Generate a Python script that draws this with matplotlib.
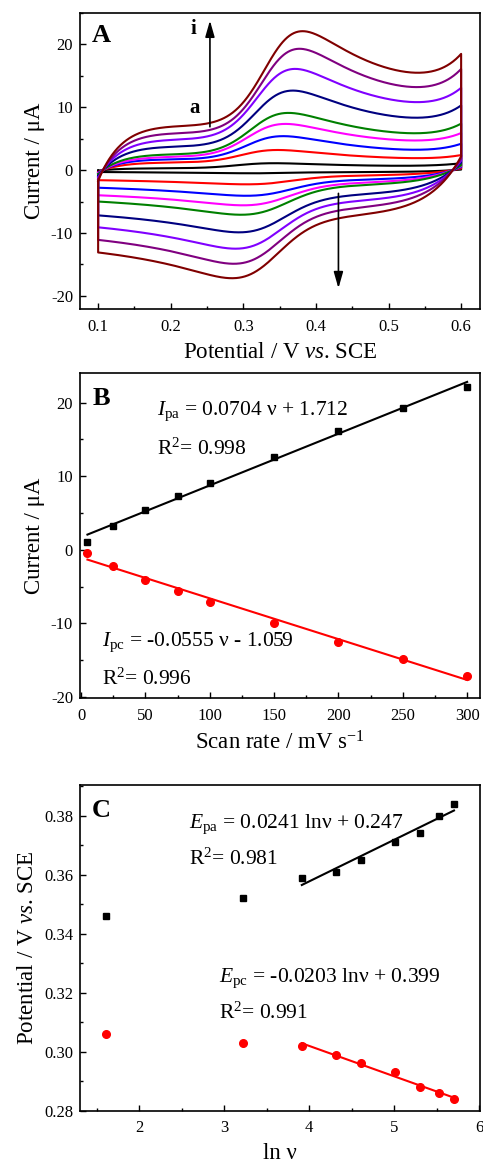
import numpy as np
import matplotlib
matplotlib.use('Agg')
import matplotlib.pyplot as plt
from matplotlib.ticker import MultipleLocator

plt.rcParams['font.family'] = ['Liberation Serif', 'DejaVu Serif']
plt.rcParams['mathtext.fontset'] = 'custom'
plt.rcParams['mathtext.rm'] = 'Liberation Serif'
plt.rcParams['mathtext.it'] = 'Liberation Serif:italic'
plt.rcParams['mathtext.bf'] = 'Liberation Serif:bold'
plt.rcParams['axes.unicode_minus'] = False

# scan rates (mV/s) and peak data
rates = [5, 25, 50, 75, 100, 150, 200, 250, 300]
ipa = [1.1, 3.2, 5.4, 7.35, 9.1, 12.65, 16.1, 19.3, 22.1]
ipc = [-0.5, -2.26, -4.08, -5.6, -7.1, -9.9, -12.5, -14.9, -17.2]
epa = [0.346, 0.352, 0.359, 0.361, 0.365, 0.371, 0.374, 0.380, 0.384]
epc = [0.306, 0.303, 0.302, 0.299, 0.296, 0.293, 0.288, 0.286, 0.284]

# background levels of each CV (uA)
fwd_at_02 = [0.3, 1.2, 1.7, 2.1, 2.5, 3.7, 4.8, 5.8, 6.9]
fwd_at_05 = [0.7, 2.0, 3.4, 4.9, 6.1, 8.7, 11.3, 13.8, 16.2]
fwd_at_06 = [1.1, 2.4, 4.2, 5.9, 7.4, 10.3, 13.1, 16.1, 18.5]
rev_at_045 = [-0.3, -0.9, -1.6, -2.1, -2.5, -4.0, -5.0, -6.1, -7.3]
rev_at_01 = [-0.3, -1.6, -2.8, -4.0, -5.0, -7.2, -9.1, -11.1, -13.1]

cv_colors = ['#000000', '#ff0000', '#0000ff', '#ff00ff', '#008000',
             '#000080', '#8000ff', '#800080', '#800000']

# linear fits printed on panel B
pa_slope, pa_icpt, pa_r2 = 0.0704, 1.712, 0.998
pc_slope, pc_icpt, pc_r2 = -0.0555, -1.059, 0.996

E_LO, E_HI = 0.1, 0.6
TAU_F, TAU_R = 0.035, 0.045
W_A, W_C = 0.024, 0.028

TICK_FS, LABEL_FS, EQ_FS, TAG_FS = 12, 16.5, 15.5, 19


def wave(x):
    return 1.0 / (1.0 + np.exp(-x)) / np.sqrt(1.0 + 3.0 * np.logaddexp(0, x))


_xs = np.linspace(-10, 40, 10001)
_hv = wave(_xs)
XP, HMAX = _xs[_hv.argmax()], _hv.max()


def peak(E, ep, w, sign):
    return wave(sign * (np.asarray(E) - ep) / w + XP) / HMAX


def fwd_basis(E, ep):
    E = np.asarray(E, dtype=float)
    S = 1 - np.exp(-(E - E_LO) / TAU_F)
    return np.array([S, S * (E - 0.2), peak(E, ep, W_A, 1),
                     np.exp((E - E_HI) / 0.04)]), 1 - S


def rev_basis(E, ep):
    E = np.asarray(E, dtype=float)
    S = 1 - np.exp(-(E_HI - E) / TAU_R)
    return np.array([S, S * (E - 0.45), peak(E, ep, W_C, -1)]), 1 - S


def cv_curve(k):
    f0 = -0.25 * fwd_at_02[k]
    r0 = -0.3 * rev_at_045[k]
    pts = [0.2, epa[k], 0.5, 0.6]
    vals = [fwd_at_02[k], ipa[k], fwd_at_05[k], fwd_at_06[k]]
    B, rest = fwd_basis(pts, epa[k])
    cf = np.linalg.solve(B.T, np.array(vals) - f0 * rest)
    ef = np.linspace(E_LO, E_HI, 500)
    B, rest = fwd_basis(ef, epa[k])
    i_f = cf @ B + f0 * rest

    pts = [0.45, epc[k], 0.1]
    vals = [rev_at_045[k], ipc[k], rev_at_01[k]]
    B, rest = rev_basis(pts, epc[k])
    cr = np.linalg.solve(B.T, np.array(vals) - r0 * rest)
    er = np.linspace(E_HI, E_LO, 500)
    B, rest = rev_basis(er, epc[k])
    i_r = cr @ B + r0 * rest
    e = np.concatenate([ef, er, ef[:1]])
    i = np.concatenate([i_f, i_r, i_f[:1]])
    return e, i


def style_axes(ax):
    for s in ax.spines.values():
        s.set_linewidth(1.2)
    ax.tick_params(which='both', direction='in', top=False, right=False,
                   labelsize=TICK_FS, width=1.0)
    ax.tick_params(which='major', length=4)
    ax.tick_params(which='minor', length=2)
    ax.tick_params(axis='x', pad=7)
    ax.tick_params(axis='y', pad=5)
    ax.xaxis.labelpad = 5


fig = plt.figure(figsize=(4.83, 11.63), dpi=100)
axA = fig.add_axes([0.1656, 0.7343, 0.8282, 0.2545])
axB = fig.add_axes([0.1656, 0.3996, 0.8282, 0.2794])
axC = fig.add_axes([0.1656, 0.0450, 0.8282, 0.2800])

# A: cyclic voltammograms
for k in range(len(rates)):
    e, i = cv_curve(k)
    axA.plot(e, i, color=cv_colors[k], lw=1.5)
axA.set_xlim(0.075, 0.626)
axA.set_ylim(-22.1, 25)
axA.xaxis.set_major_locator(MultipleLocator(0.1))
axA.xaxis.set_minor_locator(MultipleLocator(0.05))
axA.yaxis.set_major_locator(MultipleLocator(10))
axA.yaxis.set_minor_locator(MultipleLocator(5))
axA.set_xlabel(r'Potential / V $\it{vs}$. SCE', fontsize=LABEL_FS)
axA.set_ylabel('Current / μA', fontsize=LABEL_FS)
arrow = dict(arrowstyle='-|>,head_length=0.7,head_width=0.2', lw=1.2,
             color='k', shrinkA=0, shrinkB=0, mutation_scale=14)
axA.annotate('', xy=(0.254, 23.8), xytext=(0.254, 6.9), arrowprops=arrow)
axA.annotate('', xy=(0.431, -18.8), xytext=(0.431, -3.7), arrowprops=arrow)
axA.text(0.231, 22.4, 'i', fontsize=15, fontweight='bold', ha='center', va='center')
axA.text(0.233, 9.85, 'a', fontsize=15, fontweight='bold', ha='center', va='center')
axA.text(0.054, 0.923, 'A', transform=axA.transAxes, fontsize=TAG_FS,
         fontweight='bold', ha='center', va='center')
style_axes(axA)

# B: peak current vs scan rate
v = np.array([rates[0], rates[-1]], dtype=float)
axB.plot(v, pa_slope * v + pa_icpt, color='k', lw=1.5)
axB.plot(v, pc_slope * v + pc_icpt, color='#ff0000', lw=1.5)
axB.plot(rates, ipa, 's', color='k', ms=5, zorder=3)
axB.plot(rates, ipc, 'o', color='#ff0000', ms=5.5, zorder=3)
axB.set_xlim(-0.8, 310)
axB.set_ylim(-20.2, 24)
axB.xaxis.set_major_locator(MultipleLocator(50))
axB.xaxis.set_minor_locator(MultipleLocator(25))
axB.yaxis.set_major_locator(MultipleLocator(10))
axB.yaxis.set_minor_locator(MultipleLocator(5))
axB.set_xlabel(r'Scan rate / mV s$^{-1}$', fontsize=LABEL_FS)
axB.set_ylabel('Current / μA', fontsize=LABEL_FS)
axB.text(59, 18.3, r'$I_{\rm pa}$' + f' = {pa_slope} ν + {pa_icpt}', fontsize=EQ_FS)
axB.text(59, 12.9, r'R$^2$' + f'= {pa_r2}', fontsize=EQ_FS)
axB.text(16, -13.1, r'$I_{\rm pc}$' + f' = {pc_slope} ν - {abs(pc_icpt)}', fontsize=EQ_FS)
axB.text(16, -18.4, r'R$^2$' + f'= {pc_r2}', fontsize=EQ_FS)
axB.text(0.054, 0.923, 'B', transform=axB.transAxes, fontsize=TAG_FS,
         fontweight='bold', ha='center', va='center')
style_axes(axB)

# C: peak potential vs ln(scan rate)
ln_v = np.log(rates)
fit_pa = np.polyfit(ln_v[2:], epa[2:], 1)
fit_pc = np.polyfit(ln_v[2:], epc[2:], 1)
xx = np.array([ln_v[2], ln_v[-1]])
axC.plot(xx, np.polyval(fit_pa, xx), color='k', lw=1.5)
axC.plot(xx, np.polyval(fit_pc, xx), color='#ff0000', lw=1.5)
axC.plot(ln_v, epa, 's', color='k', ms=5, zorder=3)
axC.plot(ln_v, epc, 'o', color='#ff0000', ms=5.5, zorder=3)
axC.set_xlim(1.3, 6.01)
axC.set_ylim(0.28, 0.3904)
axC.xaxis.set_major_locator(MultipleLocator(1))
axC.xaxis.set_minor_locator(MultipleLocator(0.5))
axC.yaxis.set_major_locator(MultipleLocator(0.02))
axC.yaxis.set_minor_locator(MultipleLocator(0.01))
axC.yaxis.set_major_formatter(plt.FormatStrFormatter('%.2f'))
axC.set_xlabel('ln ν', fontsize=LABEL_FS)
axC.set_ylabel(r'Potential / V $\it{vs}$. SCE', fontsize=LABEL_FS)
axC.text(2.58, 0.3757, r'$E_{\rm pa}$ = 0.0241 lnν + 0.247', fontsize=EQ_FS)
axC.text(2.58, 0.3633, r'R$^2$= 0.981', fontsize=EQ_FS)
axC.text(2.94, 0.3236, r'$E_{\rm pc}$ = -0.0203 lnν + 0.399', fontsize=EQ_FS)
axC.text(2.94, 0.3112, r'R$^2$= 0.991', fontsize=EQ_FS)
axC.text(0.054, 0.923, 'C', transform=axC.transAxes, fontsize=TAG_FS,
         fontweight='bold', ha='center', va='center')
style_axes(axC)

fig.savefig('out.png', dpi=100)
